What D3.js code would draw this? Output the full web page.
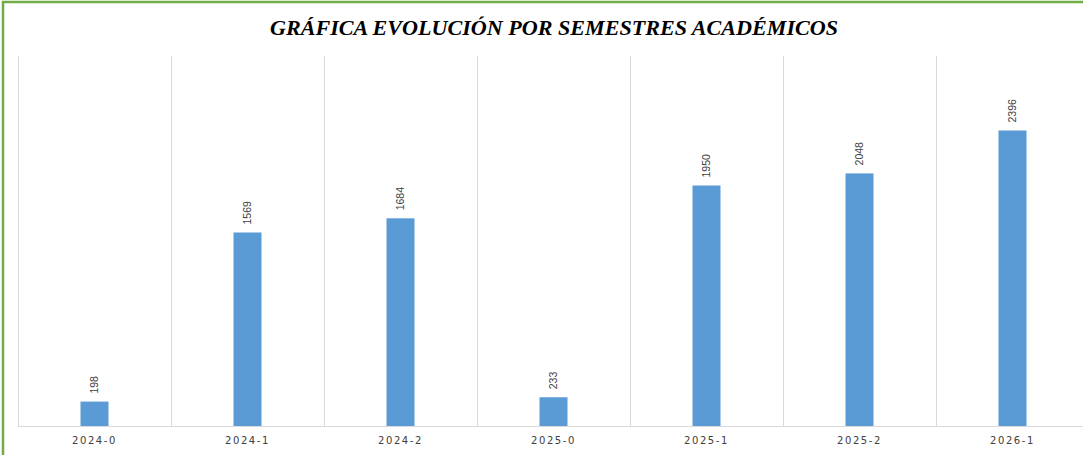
<!DOCTYPE html>
<html>
<head>
<meta charset="utf-8">
<script src="https://cdn.jsdelivr.net/npm/d3@7"></script>
<style>
  html, body { margin: 0; padding: 0; background: #fff; overflow: hidden; }
</style>
</head>
<body>
<div id="chart"></div>
<script>
const title = 'GRÁFICA EVOLUCIÓN POR SEMESTRES ACADÉMICOS'
const semesters = ['2024-0', '2024-1', '2024-2', '2025-0', '2025-1', '2025-2', '2026-1']
const students = [198, 1569, 1684, 233, 1950, 2048, 2396]

const width = 1083
const height = 455
const margin = { top: 56, left: 18, bottom: 29 }
const bandW = 153 // category width, plot runs a bit past the right edge

const svg = d3.select('#chart')
  .append('svg')
  .attr('width', width)
  .attr('height', height)
  .style('display', 'block')

// green frame (only top + left are visible in the picture)
svg.append('rect')
  .attr('x', 3).attr('y', 2)
  .attr('width', width + 10).attr('height', height + 10)
  .attr('fill', 'none')
  .attr('stroke', '#70ad47')
  .attr('stroke-width', 2.5)

svg.append('text')
  .attr('x', 554)
  .attr('y', 35)
  .attr('text-anchor', 'middle')
  .attr('font-family', 'Liberation Serif, serif')
  .attr('font-weight', 'bold')
  .attr('font-style', 'italic')
  .attr('font-size', 22)
  .attr('textLength', 568)
  .attr('lengthAdjust', 'spacingAndGlyphs')
  .attr('fill', '#000')
  .text(title)

const x = d3.scaleBand()
  .domain(semesters)
  .range([margin.left, margin.left + bandW * semesters.length])

const y = d3.scaleLinear()
  .domain([0, 3000])
  .range([height - margin.bottom, margin.top])

// vertical separators between categories
svg.append('g')
  .selectAll('line')
  .data(d3.range(semesters.length + 1))
  .join('line')
  .attr('x1', (i) => margin.left + i * bandW + 0.5)
  .attr('x2', (i) => margin.left + i * bandW + 0.5)
  .attr('y1', y(3000))
  .attr('y2', y(0))
  .attr('stroke', '#d9d9d9')
  .attr('stroke-width', 1)

const barW = 28
svg.append('g')
  .selectAll('rect')
  .data(students)
  .join('rect')
  .attr('x', (d, i) => x(semesters[i]) + x.bandwidth() / 2 - barW / 2)
  .attr('y', (d) => y(d))
  .attr('width', barW)
  .attr('height', (d) => y(0) - y(d))
  .attr('fill', '#5b9bd5')

// value labels, rotated
svg.append('g')
  .selectAll('text')
  .data(students)
  .join('text')
  .attr('transform', (d, i) => {
    const cx = x(semesters[i]) + x.bandwidth() / 2
    return `translate(${cx + 3.5},${y(d) - 8}) rotate(-90)`
  })
  .attr('font-family', 'Liberation Sans, Arial, sans-serif')
  .attr('font-size', 10.5)
  .attr('fill', '#404040')
  .text((d) => d)

// x axis
const xAxis = svg.append('g')
  .attr('transform', `translate(0,${y(0)})`)
  .call(d3.axisBottom(x).tickSize(0).tickPadding(11))
xAxis.select('.domain')
  .attr('d', `M${margin.left},0.5H${width}`)
  .attr('stroke', '#d9d9d9')
xAxis.selectAll('text')
  .attr('font-family', 'DejaVu Sans, sans-serif')
  .attr('font-size', 10)
  .attr('letter-spacing', 1.6)
  .attr('fill', '#404040')
</script>
</body>
</html>
